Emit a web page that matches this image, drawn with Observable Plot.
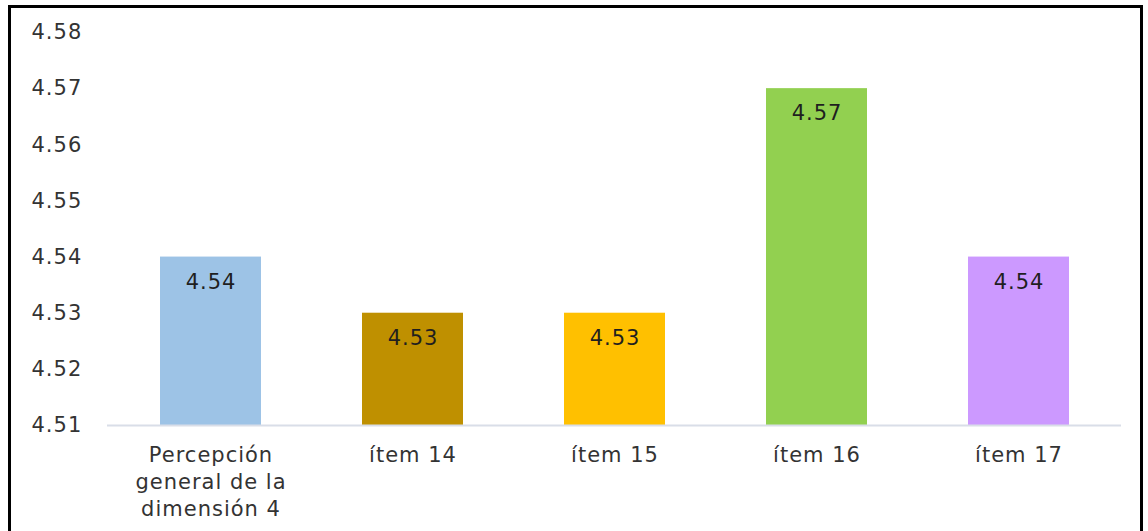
<!DOCTYPE html>
<html><head><meta charset="utf-8">
<script src="https://cdn.jsdelivr.net/npm/d3@7"></script>
<script src="https://cdn.jsdelivr.net/npm/@observablehq/plot@0.6"></script>
<style>
html,body{margin:0;padding:0;background:#fff;overflow:hidden;width:1148px;height:531px;}
#frame{position:absolute;left:8px;top:5px;width:1135px;height:540px;border:3px solid #000;box-sizing:border-box;}
#chart{position:absolute;left:0;top:0;}
#chart text{letter-spacing:1px;}
</style></head>
<body>
<div id="frame"></div>
<div id="chart"></div>
<script>
const categories = ["Percepción\ngeneral de la\ndimensión 4", "ítem 14", "ítem 15", "ítem 16", "ítem 17"];
const values = [4.54, 4.53, 4.53, 4.57, 4.54];
const colors = ["#9DC3E6", "#BF9000", "#FFC000", "#92D050", "#CC99FF"];
const yTicks = [4.51, 4.52, 4.53, 4.54, 4.55, 4.56, 4.57, 4.58];

const data = categories.map((c, i) => ({cat: c, value: values[i], color: colors[i]}));

const chart = Plot.plot({
  width: 1148,
  height: 531,
  marginLeft: 107,
  marginRight: 27,
  marginTop: 32,
  marginBottom: 106,
  style: {fontFamily: "'DejaVu Sans', sans-serif", background: "transparent"},
  x: {domain: categories, paddingInner: 0.5, paddingOuter: 0.25},
  y: {domain: [4.51, 4.58]},
  marks: [
    Plot.barY(data, {x: "cat", y1: 4.51, y2: "value", fill: "color"}),
    Plot.ruleY([4.51], {stroke: "#D9DEE8", strokeWidth: 2}),
    Plot.axisY({ticks: yTicks, tickSize: 0, tickPadding: 76, textAnchor: "start", fontSize: 21, fill: "#333333", label: null, tickFormat: d3.format(".2f")}),
    Plot.axisX({tickSize: 0, tickPadding: 18, fontSize: 21, fill: "#333333", label: null, lineHeight: 1.27}),
    Plot.text(data, {x: "cat", y: "value", text: d => d.value.toFixed(2), dy: 25, fontSize: 21, fill: "#1f1f1f"})
  ]
});
document.getElementById("chart").appendChild(chart);
</script>
</body></html>
